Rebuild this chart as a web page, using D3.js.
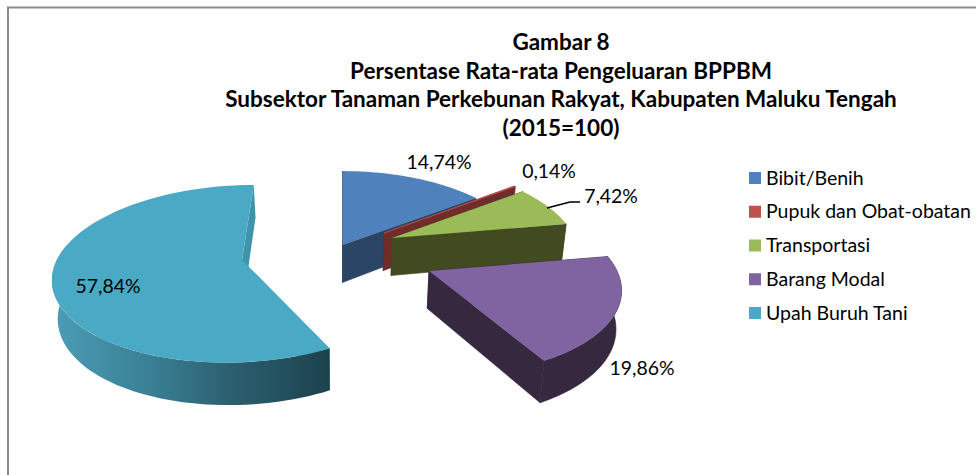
<!DOCTYPE html>
<html><head><meta charset="utf-8">
<script src="https://cdn.jsdelivr.net/npm/d3@7/dist/d3.min.js"></script>
<style>html,body{margin:0;background:#fff}svg{display:block}text{font-family:Lato,"Open Sans",sans-serif;fill:#000}</style>
</head><body><div id="c"></div>
<script>
const titleLines = ["Gambar 8","Persentase Rata-rata Pengeluaran BPPBM","Subsektor Tanaman Perkebunan Rakyat, Kabupaten Maluku Tengah","(2015=100)"];
const categories = ["Bibit/Benih","Pupuk dan Obat-obatan","Transportasi","Barang Modal","Upah Buruh Tani"];
const values = [14.74,0.14,7.42,19.86,57.84];
const topColors = ["#4f81bd","#c0504d","#9bbb59","#8064a2","#4aa9c4"];
const sideColors = ["#2a4565","#6f2c2b","#414a20","#35283f","url(#wall)"];
const cutColors = ["#2a4565","#6f2c2b","#414a20","#35283f","#3f93ab"];

// layout of the exploded 3D pie (not data)
const apex = [[342.5,245],[384,233],[392,238],[429,271],[242,260]];
const sliceScale = [.97,.97,.97,1,.985];
const labelPos = [[439,162],[549,171],[611,196],[642,368],[108,286]];
const VX=342.5, S=188, T=88, K=.155, KX=.137;

const W=976,H=475;
const svg=d3.select("#c").append("svg").attr("width",W).attr("height",H);
const grad=svg.append("defs").append("linearGradient").attr("id","wall")
  .attr("gradientUnits","userSpaceOnUse").attr("x1",55).attr("x2",329).attr("y1",0).attr("y2",0);
[[0,"#4a9cb5"],[.35,"#3a7f94"],[.65,"#2b5f6f"],[1,"#1c424d"]].forEach(s=>grad.append("stop").attr("offset",s[0]).attr("stop-color",s[1]));

svg.append("path").attr("d",`M8,${H}V7.5H${W}`).attr("fill","none").attr("stroke","#8a8a8a").attr("stroke-width",2);

const color=d3.scaleOrdinal(categories,topColors);
const arcs=d3.pie().sort(null).startAngle(0).endAngle(2*Math.PI)(values);
const line=d3.line();

// perspective projection of a disk point; r=0 is the apex, z=1 the bottom of the slab
function proj(i,th,r,z){
  const [ax,ay]=apex[i], sc=sliceScale[i], X=r*Math.sin(th), Y=r*Math.cos(th), d=1+K*Y;
  let x=ax+sc*(S*X+(VX-ax)*KX*Y)/d, y=ay-sc*T*Y/d;
  if(z){ x=VX+(x-VX)*.98; y+=37.5-5*Y; }
  return [x,y];
}
function rim(i,a,b,z){ const n=60; return d3.range(n+1).map(k=>proj(i,a+(b-a)*k/n,1,z)); }

const WALL_FROM=80*Math.PI/180, WALL_TO=280*Math.PI/180; // only the front of the slab is visible
const g=svg.append("g");
arcs.forEach((d,i)=>{
  const a=d.startAngle,b=d.endAngle;
  const s=g.append("g");
  const quad=t=>[proj(i,t,0,0),proj(i,t,1,0),proj(i,t,1,1),proj(i,t,0,1)];
  [b,a].forEach(t=>s.append("path").attr("d",line(quad(t))+"Z").attr("fill",cutColors[i])
    .attr("stroke",i===4?"none":cutColors[i]).attr("stroke-width",.6));
  const wa=Math.max(a,WALL_FROM), wb=Math.min(b,WALL_TO);
  if(wb>wa) s.append("path").attr("d",line(rim(i,wa,wb,0).concat(rim(i,wa,wb,1).reverse()))+"Z")
    .attr("fill",sideColors[i]).attr("stroke",i===4?"none":sideColors[i]).attr("stroke-width",.6);
  s.append("path").attr("d",line([proj(i,a,0,0)].concat(rim(i,a,b,0)))+"Z")
    .attr("fill",color(categories[i])).attr("stroke",i===1?color(categories[i]):"none").attr("stroke-width",i===1?.6:0);
});

const fmt=v=>v.toFixed(2).replace(".",",")+"%";
svg.append("g").selectAll("text").data(values).join("text")
  .attr("x",(d,i)=>labelPos[i][0]).attr("y",(d,i)=>labelPos[i][1]+6.5).attr("text-anchor","middle")
  .attr("font-size",19.4).text(fmt);
svg.append("path").attr("d",d3.line()([[547,208],[570,202],[580,202]]))
  .attr("fill","none").attr("stroke","#000").attr("stroke-width",1.6);

svg.append("g").selectAll("text").data(titleLines).join("text")
  .attr("x",561).attr("y",(d,i)=>50+i*28.7).attr("text-anchor","middle")
  .attr("font-size",22.5).attr("font-weight",700).text(d=>d);

const ly=d3.scalePoint(categories,[178,313]);
const lg=svg.append("g").selectAll("g").data(categories).join("g").attr("transform",d=>`translate(749,${ly(d)})`);
lg.append("rect").attr("y",-6).attr("width",12).attr("height",12).attr("fill",d=>color(d));
lg.append("text").attr("x",17).attr("y",6.5).attr("font-size",19.5).text(d=>d);
</script></body></html>
